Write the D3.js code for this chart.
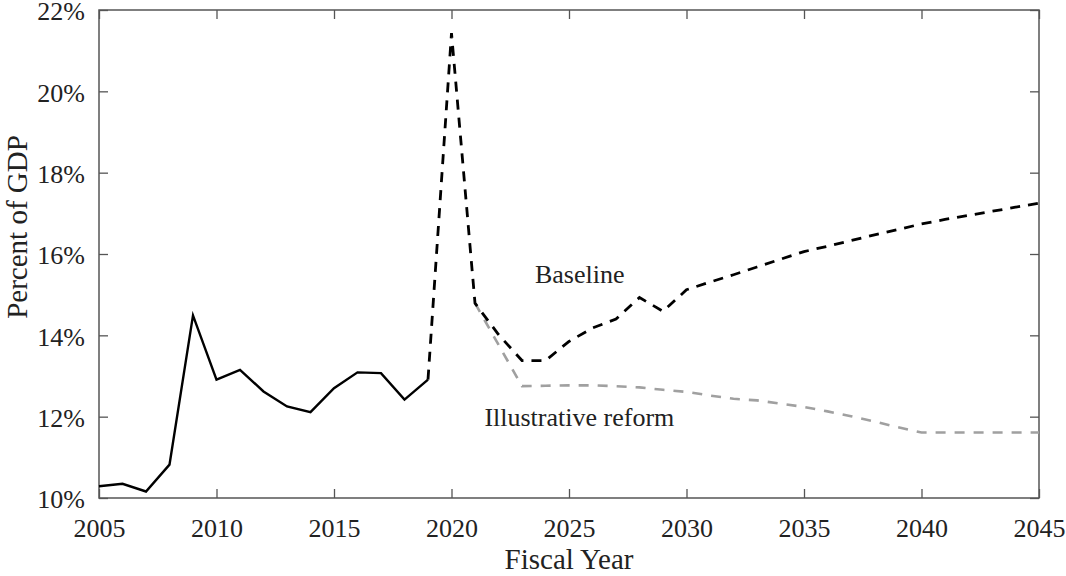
<!DOCTYPE html>
<html>
<head>
<meta charset="utf-8">
<script src="https://cdn.jsdelivr.net/npm/d3@7"></script>
<style>
  html, body { margin: 0; padding: 0; background: #fff; }
  svg { display: block; }
  text { font-family: "Liberation Serif", "Times New Roman", serif; fill: #222; }
</style>
</head>
<body>
<svg id="chart" width="1066" height="576"></svg>
<script>
// ---- Data ----
const histYears  = [2005,2006,2007,2008,2009,2010,2011,2012,2013,2014,2015,2016,2017,2018,2019];
const histValues = [10.29,10.35,10.16,10.82,14.49,12.91,13.15,12.62,12.25,12.11,12.70,13.09,13.07,12.42,12.91];

const baseYears  = [2019,2020,2021,2022,2023,2024,2025,2026,2027,2028,2029,2030,2031,2032,2033,2034,2035,2036,2037,2038,2039,2040,2041,2042,2043,2044,2045];
const baseValues = [12.91,21.43,14.79,14.02,13.38,13.38,13.85,14.18,14.40,14.93,14.59,15.12,15.31,15.49,15.68,15.87,16.06,16.19,16.33,16.47,16.60,16.74,16.85,16.95,17.05,17.15,17.25];

const reformYears  = [2021,2022,2023,2024,2025,2026,2027,2028,2029,2030,2031,2032,2033,2034,2035,2036,2037,2038,2039,2040,2041,2042,2043,2044,2045];
const reformValues = [14.79,13.77,12.75,12.76,12.77,12.77,12.75,12.72,12.66,12.61,12.52,12.44,12.40,12.32,12.24,12.13,12.01,11.88,11.74,11.61,11.61,11.61,11.61,11.61,11.61];

const xTicks = [2005,2010,2015,2020,2025,2030,2035,2040,2045];
const yTicks = [10,12,14,16,18,20,22];

const labels = [
  {text: "Baseline", year: 2023.55, value: 15.29},
  {text: "Illustrative reform", year: 2021.4, value: 11.76}
];

// ---- Layout ----
const L = 99, R = 1039, T = 10, B = 498;
const FONT = '"Liberation Serif", "Times New Roman", serif';
const svg = d3.select("#chart");

const x = d3.scaleLinear().domain([2005, 2045]).range([L, R]);
const y = d3.scaleLinear().domain([10, 22]).range([B, T]);

const frameColor = "#555";
const tickLen = 9;

// axes with inward ticks
const gx = svg.append("g").attr("transform", `translate(0,${B})`)
  .call(d3.axisBottom(x).tickValues(xTicks).tickFormat(d3.format("d")).tickSizeInner(-tickLen).tickSizeOuter(0).tickPadding(21));
const gy = svg.append("g").attr("transform", `translate(${L},0)`)
  .call(d3.axisLeft(y).tickValues(yTicks).tickFormat(d => d + "%").tickSizeInner(-tickLen).tickSizeOuter(0).tickPadding(14));
const gxt = svg.append("g").attr("transform", `translate(0,${T})`)
  .call(d3.axisTop(x).tickValues(xTicks).tickFormat("").tickSizeInner(-tickLen).tickSizeOuter(0));
const gyr = svg.append("g").attr("transform", `translate(${R},0)`)
  .call(d3.axisRight(y).tickValues(yTicks).tickFormat("").tickSizeInner(-tickLen).tickSizeOuter(0));

[gx, gy, gxt, gyr].forEach(g => {
  g.attr("font-family", FONT).attr("font-size", 26);
  g.select(".domain").remove();
  g.selectAll(".tick line").attr("stroke", frameColor).attr("stroke-width", 1.3);
  g.selectAll(".tick text").attr("fill", "#222");
});
gy.selectAll(".tick text").attr("dy", "0.38em");

// frame
svg.append("rect").attr("x", L).attr("y", T).attr("width", R - L).attr("height", B - T)
  .attr("fill", "none").attr("stroke", frameColor).attr("stroke-width", 1.5);

// lines
const line = d3.line().x(d => x(d[0])).y(d => y(d[1]));
const zip = (a, b) => a.map((v, i) => [v, b[i]]);

svg.append("path").datum(zip(reformYears, reformValues))
  .attr("d", line).attr("fill", "none").attr("stroke", "#a0a0a0")
  .attr("stroke-width", 2.6).attr("stroke-dasharray", "10,9");

svg.append("path").datum(zip(baseYears, baseValues))
  .attr("d", line).attr("fill", "none").attr("stroke", "#000")
  .attr("stroke-width", 2.8).attr("stroke-dasharray", "10,8");

svg.append("path").datum(zip(histYears, histValues))
  .attr("d", line).attr("fill", "none").attr("stroke", "#000")
  .attr("stroke-width", 2.4).attr("stroke-linejoin", "miter");

// annotations
svg.selectAll("text.anno").data(labels).enter().append("text")
  .attr("class", "anno")
  .attr("x", d => x(d.year)).attr("y", d => y(d.value))
  .attr("font-family", FONT).attr("font-size", 26).attr("fill", "#111")
  .text(d => d.text);

// axis titles
svg.append("text").attr("x", (L + R) / 2).attr("y", 569)
  .attr("text-anchor", "middle").attr("font-family", FONT).attr("font-size", 29).text("Fiscal Year");
svg.append("text").attr("transform", `translate(27,227) rotate(-90)`)
  .attr("text-anchor", "middle").attr("font-family", FONT).attr("font-size", 29).text("Percent of GDP");
</script>
</body>
</html>
